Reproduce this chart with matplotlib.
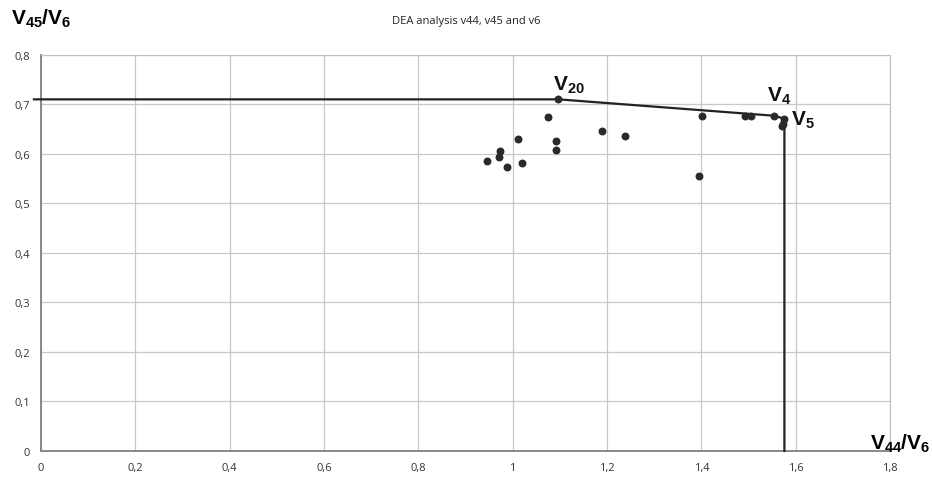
import numpy as np
import matplotlib.pyplot as plt
from matplotlib.ticker import FuncFormatter

plt.rcParams['mathtext.fontset'] = 'custom'
plt.rcParams['mathtext.bf'] = 'Liberation Sans:bold'
plt.rcParams['mathtext.rm'] = 'Liberation Sans'
plt.rcParams['font.family'] = ['Open Sans', 'DejaVu Sans']

# DMU ratios
x_ratio = [1.097, 1.075, 1.011, 0.973, 0.972, 0.945, 0.987, 1.020, 1.091, 1.092,
           1.189, 1.239, 1.401, 1.394, 1.493, 1.506, 1.553, 1.571, 1.572, 1.576]
y_ratio = [0.710, 0.675, 0.630, 0.605, 0.593, 0.586, 0.574, 0.581, 0.626, 0.608,
           0.646, 0.636, 0.676, 0.556, 0.676, 0.676, 0.677, 0.656, 0.660, 0.671]

# efficient frontier
front_x = [-0.015, 1.097, 1.553, 1.576, 1.576]
front_y = [0.710, 0.710, 0.677, 0.671, 0.0]

labels = ['20', '4', '5']
label_x = [1.085, 1.54, 1.59]
label_y = [0.718, 0.697, 0.648]

fig = plt.figure(figsize=(9.32, 4.85), dpi=100)
ax = fig.add_axes([0.044, 0.068, 0.911, 0.817])

ax.plot(front_x, front_y, color='#222222', lw=1.6, clip_on=False, zorder=3)
ax.scatter(x_ratio, y_ratio, s=22, color='#2a2a2a', zorder=4)

for t, lx, ly in zip(labels, label_x, label_y):
    ax.text(lx, ly, r'$\mathbf{V_{%s}}$' % t, fontsize=15, color='#111111',
            ha='left', va='bottom')

ax.set_xlim(0, 1.8)
ax.set_ylim(0, 0.8)
ax.set_xticks(np.arange(0, 1.81, 0.2))
ax.set_yticks(np.arange(0, 0.81, 0.1))
fmt = FuncFormatter(lambda v, p: '0' if abs(v) < 1e-9 else ('%g' % round(v, 2)).replace('.', ','))
ax.xaxis.set_major_formatter(fmt)
ax.yaxis.set_major_formatter(fmt)
ax.tick_params(length=0, labelsize=8, colors='#333333', pad=8)
ax.grid(True, color='#c8c8c8', lw=0.9)
ax.set_axisbelow(True)
for s in ['top', 'right']:
    ax.spines[s].set_color('#c0c0c0')
for s in ['left', 'bottom']:
    ax.spines[s].set_color('#888888')
    ax.spines[s].set_linewidth(1.4)

fig.text(0.5, 0.955, 'DEA analysis v44, v45 and v6', ha='center', va='center',
         fontsize=8, color='#222222')
fig.text(0.012, 0.962, r'$\mathbf{V_{45}/V_{6}}$', fontsize=15, ha='left', va='center')
fig.text(0.998, 0.085, r'$\mathbf{V_{44}/V_{6}}$', fontsize=15, ha='right', va='center')

fig.savefig('out.png', dpi=100)
